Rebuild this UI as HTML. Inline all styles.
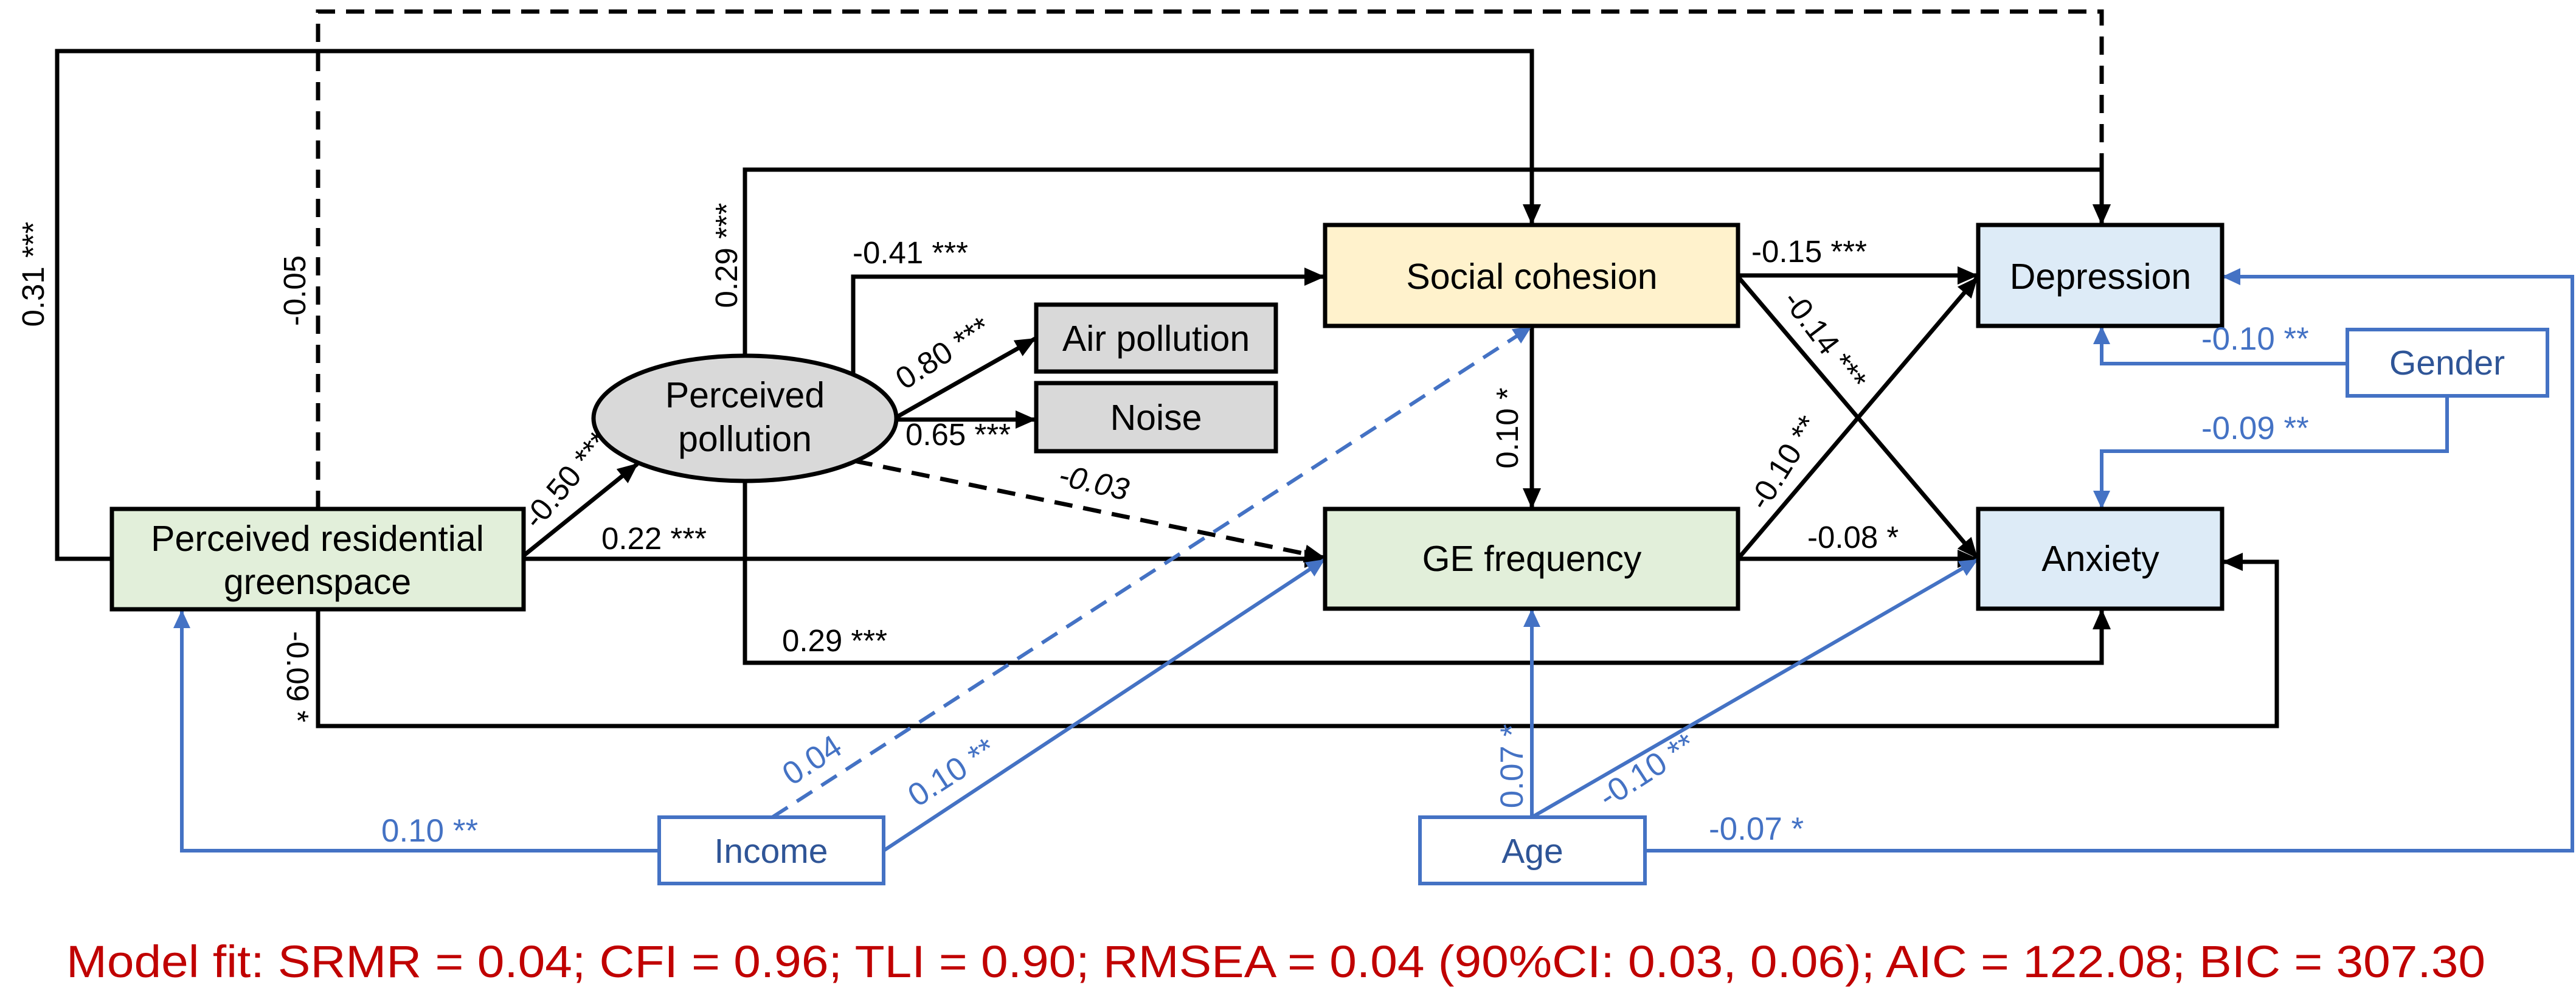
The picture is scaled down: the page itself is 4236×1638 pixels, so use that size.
<!DOCTYPE html>
<html><head><meta charset="utf-8"><style>
html,body{margin:0;padding:0;background:#fff}
svg{display:block}
text{font-family:"Liberation Sans",Arial,sans-serif}
</style></head><body>
<svg width="4236" height="1638" viewBox="0 0 4236 1638" xmlns="http://www.w3.org/2000/svg">
<defs>
<marker id="ak" markerUnits="userSpaceOnUse" markerWidth="34" markerHeight="30" refX="32" refY="15" orient="auto"><path d="M0,0 L34,15 L0,30 Z" fill="#000"/></marker>
<marker id="ab" markerUnits="userSpaceOnUse" markerWidth="30" markerHeight="28" refX="28" refY="14" orient="auto"><path d="M0,0 L30,14 L0,28 Z" fill="#4472C4"/></marker>
</defs>
<g fill="none" stroke="#000" stroke-width="7">
<polyline points="184,919 94,919 94,84 2519,84 2519,368" marker-end="url(#ak)"/>
<polyline points="523,837 523,19 3456,19 3456,368" stroke-dasharray="30,18" marker-end="url(#ak)"/>
<polyline points="523,1003 523,1194 3744,1194 3744,924 3656,924" marker-end="url(#ak)"/>
<polyline points="1225,585 1225,279 3456,279 3456,368" marker-end="url(#ak)"/>
<polyline points="1225,791 1225,1090 3456,1090 3456,1003" marker-end="url(#ak)"/>
<polyline points="1403,614 1403,455 2177,455" marker-end="url(#ak)"/>
<line x1="1476" y1="685" x2="1702" y2="557" marker-end="url(#ak)"/>
<line x1="1476" y1="690" x2="1702" y2="690" marker-end="url(#ak)"/>
<line x1="1405" y1="758" x2="2177" y2="917" stroke-dasharray="30,18" marker-end="url(#ak)"/>
<line x1="862" y1="913" x2="1048" y2="763" marker-end="url(#ak)"/>
<line x1="862" y1="919" x2="2177" y2="919" marker-end="url(#ak)"/>
<line x1="2519" y1="536" x2="2519" y2="835" marker-end="url(#ak)"/>
<line x1="2858" y1="453" x2="3251" y2="453" marker-end="url(#ak)"/>
<line x1="2858" y1="455" x2="3251" y2="917" marker-end="url(#ak)"/>
<line x1="2858" y1="919" x2="3251" y2="457" marker-end="url(#ak)"/>
<line x1="2858" y1="919" x2="3251" y2="919" marker-end="url(#ak)"/>
</g>
<g fill="none" stroke="#4472C4" stroke-width="6">
<polyline points="1084,1399 299,1399 299,1005" marker-end="url(#ab)"/>
<line x1="1270" y1="1344" x2="2517" y2="538" stroke-dasharray="30,18" marker-end="url(#ab)"/>
<line x1="1453" y1="1399" x2="2177" y2="921" marker-end="url(#ab)"/>
<line x1="2519" y1="1344" x2="2519" y2="1003" marker-end="url(#ab)"/>
<line x1="2519" y1="1344" x2="3251" y2="921" marker-end="url(#ab)"/>
<polyline points="2705,1399 4230,1399 4230,455 3656,455" marker-end="url(#ab)"/>
<polyline points="3860,598 3456,598 3456,538" marker-end="url(#ab)"/>
<polyline points="4024,651 4024,742 3456,742 3456,835" marker-end="url(#ab)"/>
</g>
<g stroke="#000" stroke-width="7">
<rect x="184" y="837" width="677" height="165" fill="#E2EFDA"/>
<ellipse cx="1225" cy="688" rx="249" ry="103" fill="#D9D9D9"/>
<rect x="1704" y="501" width="394" height="110" fill="#D9D9D9"/>
<rect x="1704" y="630" width="394" height="112" fill="#D9D9D9"/>
<rect x="2179" y="370" width="679" height="166" fill="#FFF2CC"/>
<rect x="2179" y="837" width="679" height="164" fill="#E2EFDA"/>
<rect x="3253" y="370" width="401" height="166" fill="#DDEBF7"/>
<rect x="3253" y="837" width="401" height="164" fill="#DDEBF7"/>
</g>
<g stroke="#4472C4" stroke-width="6" fill="#fff">
<rect x="1084" y="1344" width="369" height="109"/>
<rect x="2335" y="1344" width="370" height="109"/>
<rect x="3860" y="542" width="329" height="109"/>
</g>
<g font-size="59" text-anchor="middle" fill="#000">
<text x="522" y="906">Perceived residential</text>
<text x="522" y="977">greenspace</text>
<text x="1225" y="670">Perceived</text>
<text x="1225" y="742">pollution</text>
<text x="1901" y="577">Air pollution</text>
<text x="1901" y="707">Noise</text>
<text x="2519" y="475">Social cohesion</text>
<text x="2519" y="939">GE frequency</text>
<text x="3454" y="475">Depression</text>
<text x="3454" y="939">Anxiety</text>
</g>
<g font-size="57" text-anchor="middle" fill="#2F5597">
<text x="1268" y="1419">Income</text>
<text x="2520" y="1419">Age</text>
<text x="4024" y="616">Gender</text>
</g>
<g font-size="51" fill="#000">
<text transform="translate(72,451) rotate(-90)" text-anchor="middle">0.31 ***</text>
<text transform="translate(502,478) rotate(-90)" text-anchor="middle">-0.05</text>
<text transform="translate(1212,420) rotate(-90)" text-anchor="middle">0.29 ***</text>
<text x="1402" y="433">-0.41 ***</text>
<text transform="translate(1560,595) rotate(-33)" text-anchor="middle">0.80 ***</text>
<text x="1489" y="732">0.65 ***</text>
<text transform="translate(945,800) rotate(-50)" text-anchor="middle">-0.50 ***</text>
<text x="989" y="903">0.22 ***</text>
<text transform="translate(1795,810) rotate(13)" text-anchor="middle" font-style="italic">-0.03</text>
<text x="1286" y="1071">0.29 ***</text>
<text transform="translate(472,1113) rotate(90)" text-anchor="middle">-0.09 *</text>
<text x="2880" y="431">-0.15 ***</text>
<text transform="translate(2987,570) rotate(53)" text-anchor="middle">-0.14 ***</text>
<text transform="translate(2496,704) rotate(-90)" text-anchor="middle">0.10 *</text>
<text transform="translate(2948,770) rotate(-58)" text-anchor="middle">-0.10 **</text>
<text x="2972" y="901">-0.08 *</text>
</g>
<g font-size="53" fill="#4472C4">
<text transform="translate(1345,1265) rotate(-33)" text-anchor="middle">0.04</text>
<text transform="translate(1575,1285) rotate(-33)" text-anchor="middle">0.10 **</text>
<text x="627" y="1384">0.10 **</text>
<text transform="translate(2504,1260) rotate(-90)" text-anchor="middle">0.07 *</text>
<text transform="translate(2718,1282) rotate(-33)" text-anchor="middle">-0.10 **</text>
<text x="2810" y="1381">-0.07 *</text>
<text x="3620" y="575">-0.10 **</text>
<text x="3620" y="722">-0.09 **</text>
</g>
<text x="109" y="1607" font-size="74" fill="#C00000" textLength="3978" lengthAdjust="spacingAndGlyphs">Model fit: SRMR = 0.04; CFI = 0.96; TLI = 0.90; RMSEA = 0.04 (90%CI: 0.03, 0.06); AIC = 122.08; BIC = 307.30</text>
</svg>
</body></html>
